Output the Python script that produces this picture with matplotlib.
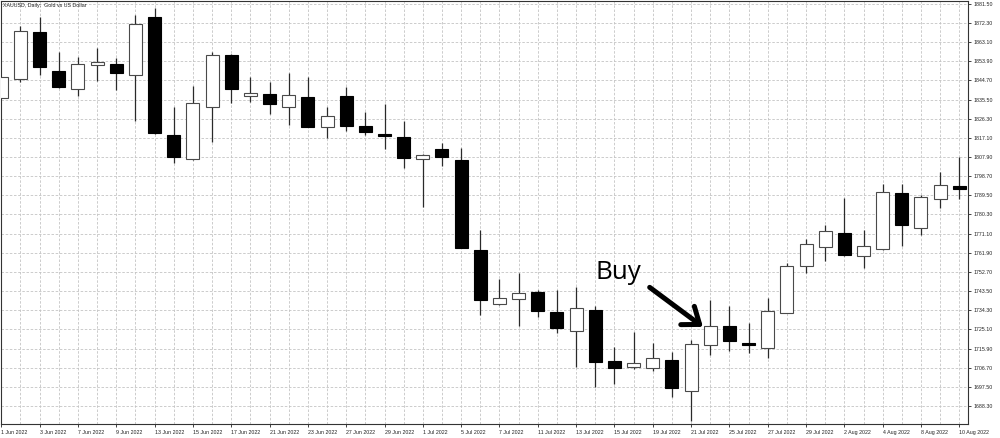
import matplotlib
matplotlib.use("Agg")
import matplotlib.pyplot as plt

dates = ["1 Jun 2022", "2 Jun 2022", "3 Jun 2022", "6 Jun 2022", "7 Jun 2022", "8 Jun 2022",
         "9 Jun 2022", "10 Jun 2022", "13 Jun 2022", "14 Jun 2022", "15 Jun 2022", "16 Jun 2022",
         "17 Jun 2022", "20 Jun 2022", "21 Jun 2022", "22 Jun 2022", "23 Jun 2022", "24 Jun 2022",
         "27 Jun 2022", "28 Jun 2022", "29 Jun 2022", "30 Jun 2022", "1 Jul 2022", "4 Jul 2022",
         "5 Jul 2022", "6 Jul 2022", "7 Jul 2022", "8 Jul 2022", "11 Jul 2022", "12 Jul 2022",
         "13 Jul 2022", "14 Jul 2022", "15 Jul 2022", "18 Jul 2022", "19 Jul 2022", "20 Jul 2022",
         "21 Jul 2022", "22 Jul 2022", "25 Jul 2022", "26 Jul 2022", "27 Jul 2022", "28 Jul 2022",
         "29 Jul 2022", "1 Aug 2022", "2 Aug 2022", "3 Aug 2022", "4 Aug 2022", "5 Aug 2022",
         "8 Aug 2022", "9 Aug 2022", "10 Aug 2022"]

opens = [1836.4, 1845.5, 1868.0, 1849.4, 1840.7, 1852.0, 1852.5, 1847.2, 1875.3, 1818.3,
         1806.8, 1832.1, 1856.9, 1837.1, 1838.0, 1832.1, 1836.9, 1822.2, 1837.2, 1822.7,
         1819.1, 1817.5, 1806.8, 1811.8, 1806.5, 1763.2, 1737.2, 1739.6, 1743.1, 1733.6,
         1724.3, 1734.4, 1710.1, 1706.9, 1706.4, 1710.4, 1695.5, 1717.5, 1726.9, 1718.7,
         1716.0, 1733.1, 1755.6, 1764.5, 1771.3, 1760.5, 1763.9, 1790.8, 1773.7, 1787.6,
         1793.8]
highs = [1846.5, 1870.9, 1875.0, 1858.2, 1855.8, 1860.1, 1855.3, 1876.1, 1879.4, 1832.1,
         1842.2, 1858.2, 1857.3, 1846.2, 1844.1, 1848.1, 1846.2, 1832.1, 1841.4, 1829.5,
         1833.4, 1825.4, 1809.4, 1814.8, 1812.3, 1772.9, 1749.3, 1752.3, 1744.0, 1744.0,
         1745.6, 1736.3, 1716.5, 1723.8, 1718.4, 1714.4, 1720.0, 1739.2, 1736.3, 1728.3,
         1740.3, 1756.9, 1768.4, 1775.3, 1788.1, 1772.9, 1795.0, 1795.0, 1789.7, 1800.9,
         1808.1]
lows = [1836.4, 1844.1, 1847.3, 1840.9, 1837.2, 1844.6, 1840.1, 1825.4, 1818.8, 1804.9,
        1806.5, 1815.0, 1834.0, 1834.5, 1828.6, 1823.3, 1822.2, 1816.9, 1820.6, 1818.5,
        1811.8, 1802.8, 1784.0, 1803.7, 1764.0, 1732.0, 1736.8, 1726.9, 1731.2, 1723.2,
        1707.2, 1697.3, 1698.7, 1705.9, 1705.0, 1692.5, 1681.1, 1712.7, 1714.7, 1713.6,
        1711.2, 1732.9, 1752.1, 1758.0, 1760.4, 1754.4, 1763.4, 1765.2, 1770.5, 1783.3,
        1787.6]
closes = [1846.5, 1868.6, 1851.3, 1841.4, 1852.5, 1853.6, 1848.1, 1871.7, 1819.3, 1808.1,
          1833.7, 1856.9, 1840.4, 1838.5, 1833.2, 1837.9, 1822.5, 1827.5, 1822.8, 1819.9,
          1817.9, 1807.3, 1808.9, 1807.8, 1764.3, 1739.2, 1740.0, 1742.4, 1733.9, 1725.9,
          1735.2, 1709.6, 1706.7, 1708.8, 1711.5, 1696.8, 1717.9, 1726.9, 1719.7, 1717.5,
          1734.1, 1755.7, 1766.0, 1772.2, 1760.8, 1765.3, 1791.3, 1775.3, 1788.8, 1794.3,
          1792.4]

price_ticks = [1688.30, 1697.50, 1706.70, 1715.90, 1725.10, 1734.30, 1743.50, 1752.70,
               1761.90, 1771.10, 1780.30, 1789.50, 1798.70, 1807.90, 1817.10, 1826.30,
               1835.50, 1844.70, 1853.90, 1863.10, 1872.30, 1881.50]

plt.rcParams["font.family"] = ["Liberation Sans", "DejaVu Sans"]

fig = plt.figure(figsize=(10, 4.38), dpi=100)
ax = fig.add_axes([0.001, 1 - 424 / 438, 0.967, 423 / 438])

n = len(dates)
xs = list(range(n))
grid_kw = dict(color="#c4c4c4", lw=0.6, linestyle=(0, (3, 2)), zorder=0)
for x in xs:
    ax.axvline(x, **grid_kw)
for p in price_ticks:
    ax.axhline(p, **grid_kw)

for i in xs:
    o, h, l, c = opens[i], highs[i], lows[i], closes[i]
    bull = c >= o
    ax.vlines(i, l, h, color="#2a2a2a", lw=0.9, zorder=2)
    bot, height = min(o, c), max(abs(c - o), 0.8)
    ax.bar(i, height, bottom=bot, width=0.68,
           color="white" if bull else "black",
           edgecolor="#4a4a4a" if bull else "black", lw=0.8, zorder=3)

ax.set_xlim(-0.016, 50.454)
ax.set_ylim(1679.65, 1882.87)

ax.set_xticks(xs[::2])
ax.set_xticklabels(dates[::2], ha="left")
ax.yaxis.tick_right()
ax.set_yticks(price_ticks)
ax.set_yticklabels([f"{p:.2f}" for p in price_ticks])
ax.tick_params(axis="x", length=2.5, width=0.6, pad=1.5, labelsize=3.8, colors="#222")
ax.tick_params(axis="y", length=2.5, width=0.6, pad=1.5, labelsize=3.8, colors="#222")
for s in ax.spines.values():
    s.set_color("#333")
    s.set_linewidth(0.8)

fig.text(0.003, 1 - 2.5 / 438, "XAUUSD, Daily:  Gold vs US Dollar", va="top", ha="left",
         fontsize=3.8, color="#222")

ax.annotate("", xy=(36.62, 1726.3), xytext=(33.84, 1745.3),
            arrowprops=dict(arrowstyle="->,head_length=0.54,head_width=0.41", lw=3.6,
                            color="black", mutation_scale=20, shrinkA=0, shrinkB=0),
            zorder=5)
ax.text(31.0, 1749.2, "Buy", fontsize=18.7, family="Open Sans", ha="left", va="baseline",
        color="black", zorder=5)

fig.savefig("out.png", dpi=100, facecolor="white")
